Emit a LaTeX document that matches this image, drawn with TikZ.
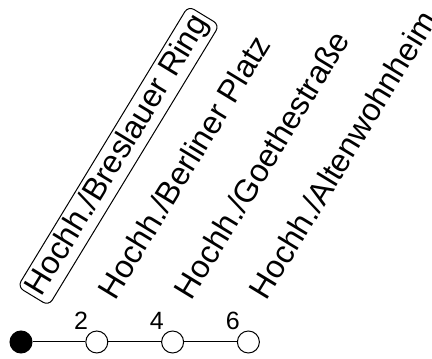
\documentclass[tikz,border=0pt]{standalone}
\usepackage{fontspec}
\setmainfont{Liberation Sans}

\tikzset{every picture/.style={line width=0.75pt}}
\tikzset{
  stopmark/.style={circle, draw, fill=white, minimum size=16.5pt, inner sep=0pt},
  stopfilled/.style={stopmark, fill=black},
  stoplabel/.style={anchor=base west, rotate=58.7, inner sep=2.5pt, font=\fontsize{24}{28}\selectfont},
  stopnum/.style={inner sep=0.75pt, font=\fontsize{18.75}{22}\selectfont}
}

\begin{document}
\begin{tikzpicture}[x=0.75pt,y=0.75pt,yscale=-1,xscale=1]
	\useasboundingbox (0,0) rectangle (432,359);

	%Shape: Circle
	\node [stopfilled] (s0) at (21,342) {};
	%Shape: Circle
	\node [stopmark] (s2) at (96.8,342) {};
	%Shape: Circle
	\node [stopmark] (s4) at (172.6,342) {};
	%Shape: Circle
	\node [stopmark] (s6) at (248.4,342) {};
	%Straight Lines
	\draw (s0) -- (s2) (s2) -- (s4) (s4) -- (s6) ;

	% Text Node
	\node [stopnum] (n2) at (81,320.7) {2};
	% Text Node
	\node [stopnum] (n4) at (156.9,320.7) {4};
	% Text Node
	\node [stopnum] (n6) at (232.7,320.7) {6};

	% Text Node
	\node [stoplabel, draw, rounded corners=5pt] (l0) at (40,301) {Hochh./Breslauer Ring};
	% Text Node
	\node [stoplabel] (l2) at (113.3,304.5) {Hochh./Berliner Platz};
	% Text Node
	\node [stoplabel] (l4) at (190,304.5) {Hochh./Goethestraße};
	% Text Node
	\node [stoplabel] (l6) at (265,304.5) {Hochh./Altenwohnheim};

\end{tikzpicture}
\end{document}
